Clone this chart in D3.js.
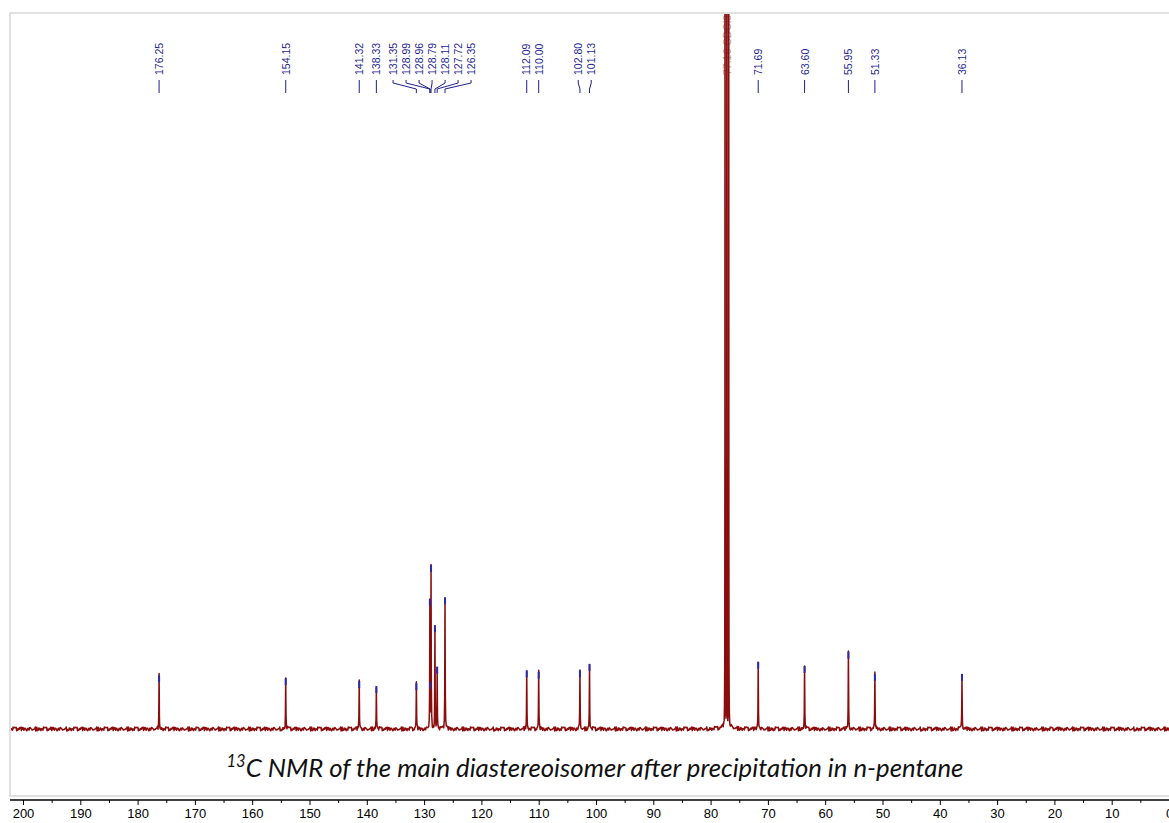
<!DOCTYPE html>
<html>
<head>
<meta charset="utf-8">
<script src="https://cdn.jsdelivr.net/npm/d3@7"></script>
<style>
  html, body { margin: 0; padding: 0; background: #fff; }
  svg { display: block; }
</style>
</head>
<body>
<svg id="chart" width="1169" height="823"></svg>
<script>
// Picked 13C peaks (ppm) and their intensities (arbitrary units, baseline = 0)
const peakPpm = [176.25, 154.15, 141.32, 138.33, 131.35, 128.99, 128.96, 128.79, 128.11, 127.72, 126.35,
                 112.09, 110.00, 102.80, 101.13, 71.69, 63.60, 55.95, 51.33, 36.13];
const peakHeight = [7.5, 7.1, 6.7, 6.0, 6.4, 18.2, 6.6, 22.9, 14.5, 8.7, 18.4,
                    8.2, 8.0, 8.2, 9.1, 9.4, 8.8, 10.8, 7.7, 7.7];
const peakLabels = ["176.25", "154.15", "141.32", "138.33", "131.35", "128.99", "128.96", "128.79", "128.11", "127.72", "126.35",
                    "112.09", "110.00", "102.80", "101.13", "71.69", "63.60", "55.95", "51.33", "36.13"];

// CDCl3 solvent triplet (off-scale) and its broad foot
const solventPpm = [77.48, 77.16, 76.84];
const solventHeight = [160, 165, 160];
const solventFootPpm = 77.16;
const solventFootHeight = 1.6;
const solventLabel = "77.16 CDCl3";

// Baseline noise offsets (intensity units)
const baselineNoise = [0.12, -0.18, 0.05, 0.22, -0.09, -0.25, 0.15, 0.03, -0.14, 0.27, -0.05, 0.09, -0.21, 0.18, -0.02,
                       0.08, -0.27, 0.2, -0.11, 0.01, 0.24, -0.16, 0.06, -0.07, 0.14, -0.23, 0.1, 0.19, -0.13, -0.03,
                       0.26, -0.19, 0.04, -0.1, 0.16, -0.06, 0.21, -0.24, 0.07, 0.0, -0.15, 0.23, -0.08, 0.13, -0.2,
                       0.11, -0.01, 0.17, -0.26, 0.02, 0.25, -0.12, 0.09, -0.17, 0.2, -0.04, 0.06, -0.22, 0.15, -0.1, 0.28];

// Axis ticks
const majorTicks = [200, 190, 180, 170, 160, 150, 140, 130, 120, 110, 100, 90, 80, 70, 60, 50, 40, 30, 20, 10, 0];
const minorTicks = [195, 185, 175, 165, 155, 145, 135, 125, 115, 105, 95, 85, 75, 65, 55, 45, 35, 25, 15, 5];

const captionSup = "13";
const captionMain = "C NMR of the main diastereoisomer after precipitation in n-pentane";

const svg = d3.select("#chart");
const W = 1169, H = 823;

const frame = { left: 10, top: 13, right: 1180, bottom: 796 };
const x = d3.scaleLinear().domain([200, 0]).range([23, 1169]);
const y = d3.scaleLinear().domain([0, 100]).range([729, 13]);

// Frame
svg.append("rect")
  .attr("x", frame.left).attr("y", frame.top)
  .attr("width", frame.right - frame.left).attr("height", frame.bottom - frame.top)
  .attr("fill", "none").attr("stroke", "#d6d6d6").attr("stroke-width", 1.5);

svg.append("defs").append("clipPath").attr("id", "plotClip")
  .append("rect")
  .attr("x", frame.left + 1).attr("y", frame.top + 1)
  .attr("width", W - frame.left).attr("height", frame.bottom - frame.top - 2);

const plot = svg.append("g").attr("clip-path", "url(#plotClip)");

// Solvent label (grey, sits behind the solvent signal)
plot.append("text")
  .attr("transform", `translate(${x(77.16)},75) rotate(-90)`)
  .attr("dominant-baseline", "central")
  .attr("font-family", "Liberation Sans, Arial, sans-serif")
  .attr("font-size", 10.5)
  .attr("fill", "#a0a0a0")
  .text(solventLabel);

// Spectrum trace
const lines = peakPpm.map((p, i) => ({ c: p, h: peakHeight[i], w: 0.035 }))
  .concat(solventPpm.map((p, i) => ({ c: p, h: solventHeight[i], w: 0.014 })))
  .concat([{ c: solventFootPpm, h: solventFootHeight, w: 0.45 }]);

const ppmLo = x.invert(W + 1), ppmHi = x.invert(frame.left);
const pts = [];
const step = 0.09;
for (let p = ppmHi; p >= ppmLo; p -= step) pts.push(p);
lines.forEach(l => { [-0.12, -0.06, -0.025, 0, 0.025, 0.06, 0.12].forEach(o => pts.push(l.c + o)); });
solventPpm.forEach(c => { [-0.16, -0.1, -0.05, 0.05, 0.1, 0.16].forEach(o => pts.push(c + o)); });
pts.sort((a, b) => b - a);

function intensity(p) {
  let v = 0;
  lines.forEach(l => {
    const d = (p - l.c) / l.w;
    v = Math.max(v, l.h / (1 + d * d));
  });
  const k = Math.round(x(p) * 2);
  const n = baselineNoise[(k * 7) % baselineNoise.length];
  return v + n;
}

const trace = pts.map(p => [x(p), y(intensity(p))]);
const lineGen = d3.line();

plot.append("path")
  .attr("d", lineGen(trace))
  .attr("fill", "none")
  .attr("stroke", "#8a0c0c")
  .attr("stroke-width", 1.5)
  .attr("stroke-linejoin", "round");

// Peak-pick markers
plot.selectAll("rect.pk")
  .data(peakPpm.map((p, i) => ({ p, h: peakHeight[i] })))
  .join("rect")
  .attr("class", "pk")
  .attr("x", d => x(d.p) - 1)
  .attr("y", d => y(d.h))
  .attr("width", 2)
  .attr("height", 7)
  .attr("fill", "#2a2aa8");

// Peak labels with repelled positions
const minGap = 13;
let groups = peakPpm.map((p, i) => ({ idx: [i], xs: [x(p)] }));
groups.sort((a, b) => a.xs[0] - b.xs[0]);
function place(g) {
  const mean = d3.mean(g.xs);
  const n = g.idx.length;
  g.start = mean - (n - 1) * minGap / 2;
  g.end = g.start + (n - 1) * minGap;
}
groups.forEach(place);
let merged = true;
while (merged) {
  merged = false;
  for (let k = 0; k < groups.length - 1; k++) {
    if (groups[k + 1].start - groups[k].end < minGap) {
      const a = groups[k], b = groups[k + 1];
      const g = { idx: a.idx.concat(b.idx), xs: a.xs.concat(b.xs) };
      place(g);
      groups.splice(k, 2, g);
      merged = true;
      break;
    }
  }
}
const labelPos = [];
groups.forEach(g => {
  const order = g.idx.slice().sort((a, b) => x(peakPpm[a]) - x(peakPpm[b]));
  order.forEach((i, j) => labelPos.push({ i, lx: g.start + j * minGap, px: x(peakPpm[i]) }));
});

const blue = "#1f1f8f";
const lab = svg.append("g");
lab.selectAll("text")
  .data(labelPos)
  .join("text")
  .attr("transform", d => `translate(${d.lx},75) rotate(-90)`)
  .attr("dominant-baseline", "central")
  .attr("font-family", "Liberation Sans, Arial, sans-serif")
  .attr("font-size", 10.5)
  .attr("fill", blue)
  .text(d => peakLabels[d.i]);

lab.selectAll("path")
  .data(labelPos)
  .join("path")
  .attr("d", d => Math.abs(d.lx - d.px) < 0.8
    ? `M${d.px},80 L${d.px},93`
    : `M${d.lx},80 L${d.lx},83 L${d.px},89 L${d.px},93`)
  .attr("fill", "none")
  .attr("stroke", blue)
  .attr("stroke-width", 1);

// Caption
const cap = svg.append("text")
  .attr("x", 595).attr("y", 777)
  .attr("text-anchor", "middle")
  .attr("font-family", "Lato, Open Sans, sans-serif")
  .attr("font-style", "italic")
  .attr("font-size", 22)
  .attr("fill", "#111");
cap.append("tspan").attr("class", "sup").text(captionSup);
cap.append("tspan").attr("class", "main").text(captionMain);
const len = cap.node().getComputedTextLength();
const fs = 22 * 748 / len;
cap.attr("font-size", fs);
cap.select("tspan.sup").attr("font-size", fs * 0.64).attr("dy", -fs * 0.4);
cap.select("tspan.main").attr("dy", fs * 0.4);

// Bottom ppm axis
const axisY = 800;
svg.append("line")
  .attr("x1", frame.left).attr("x2", W)
  .attr("y1", axisY).attr("y2", axisY)
  .attr("stroke", "#000").attr("stroke-width", 1.5);

const axMajor = svg.append("g")
  .attr("transform", `translate(0,${axisY})`)
  .call(d3.axisBottom(x).tickValues(majorTicks).tickSize(5).tickPadding(4).tickFormat(d3.format("d")));
axMajor.select(".domain").remove();
axMajor.selectAll("text")
  .attr("font-family", "Liberation Sans, Arial, sans-serif")
  .attr("font-size", 13)
  .attr("fill", "#000");

const axMinor = svg.append("g")
  .attr("transform", `translate(0,${axisY})`)
  .call(d3.axisBottom(x).tickValues(minorTicks).tickSize(3).tickFormat(""));
axMinor.select(".domain").remove();
</script>
</body>
</html>
